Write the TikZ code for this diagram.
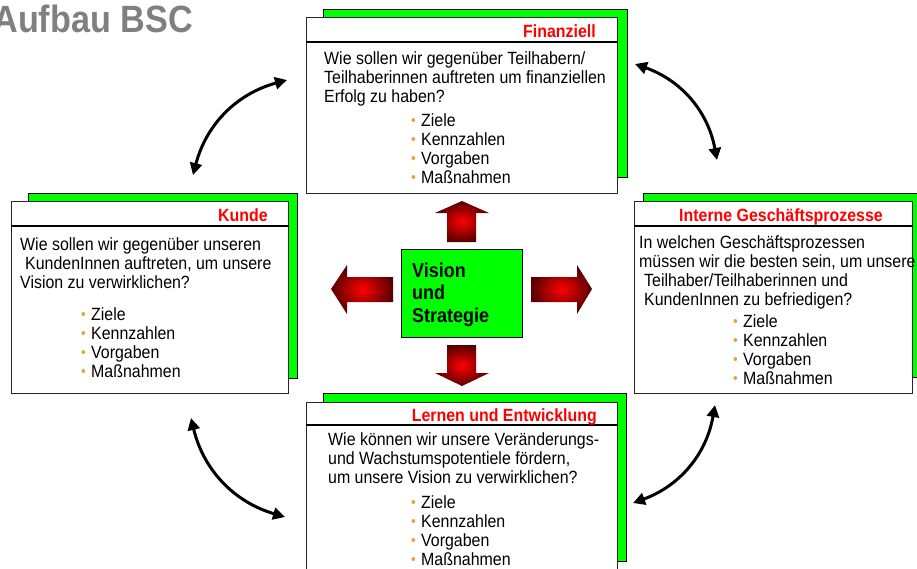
\documentclass[tikz,border=0pt]{standalone}
\usepackage{fontspec}
\setmainfont{Liberation Sans}[FakeStretch=0.9]
\usetikzlibrary{arrows.meta}
\definecolor{bsgreen}{HTML}{00FF00}
\definecolor{bulc}{HTML}{E9A332}
\definecolor{titlegray}{HTML}{808080}
\definecolor{darkr}{HTML}{580000}
\newcommand\bul{\makebox[10pt][l]{\textcolor{bulc}{\fontsize{15}{15}\selectfont\raisebox{0.5pt}{•}}}}
\begin{document}
\begin{tikzpicture}[x=1pt,y=-1pt,
  txt/.style={anchor=base west,inner sep=0pt,font=\fontsize{17.7}{19}\selectfont},
  head/.style={anchor=base east,inner sep=0pt,font=\fontsize{17.7}{19}\selectfont\bfseries,text=red},
  ctr/.style={anchor=base west,inner sep=0pt,font=\fontsize{20}{22}\selectfont\bfseries},
  shadowbox/.style={fill=bsgreen,draw=black,line width=0.8pt,anchor=north west,inner sep=0pt},
  mainbox/.style={fill=white,draw=black!85,line width=0.8pt,anchor=north west,inner sep=0pt},
  headline/.style={line width=1.6pt},
  redarrow/.style={inner color=red,outer color=darkr},
  cycarrow/.style={line width=3pt,{Triangle[length=12pt,width=12pt]}-{Triangle[length=12pt,width=12pt]}}
]
\useasboundingbox (0,0) rectangle (917,568);
\clip (0,0) rectangle (917,568);

% title
\node[anchor=base east,inner sep=0pt,text=titlegray,font=\fontsize{38}{42}\selectfont\bfseries] (title) at (193,32) {Aufbau BSC};

% ---------- top box: Finanziell
\node[shadowbox,minimum width=304pt,minimum height=168pt] (fin-sh) at (323,9) {};
\node[mainbox,minimum width=311pt,minimum height=176pt] (fin) at (306,17) {};
\coordinate (fin-h) at (0,42);
\draw[headline] (fin.west|-fin-h) -- (fin.east|-fin-h);
\node[head] (fin-t) at (596,37) {Finanziell};
\foreach \t [count=\i] in {{Wie sollen wir gegenüber Teilhabern/},{Teilhaberinnen auftreten um finanziellen},{Erfolg zu haben?}}
  \node[txt] (fin-q\i) at (324,{64+19*(\i-1)}) {\t};
\foreach \t [count=\i] in {Ziele,Kennzahlen,Vorgaben,Maßnahmen}
  \node[txt] (fin-b\i) at (411,{126+19*(\i-1)}) {\bul\t};

% ---------- left box: Kunde
\node[shadowbox,minimum width=269pt,minimum height=185pt] (kun-sh) at (28,193) {};
\node[mainbox,minimum width=277pt,minimum height=192pt] (kun) at (11,201) {};
\coordinate (kun-h) at (0,226);
\draw[headline] (kun.west|-kun-h) -- (kun.east|-kun-h);
\node[head] (kun-t) at (268,221) {Kunde};
\node[txt] (kun-q1) at (20,250) {Wie sollen wir gegenüber unseren};
\node[txt] (kun-q2) at (25,269) {KundenInnen auftreten, um unsere};
\node[txt] (kun-q3) at (20,288) {Vision zu verwirklichen?};
\foreach \t [count=\i] in {Ziele,Kennzahlen,Vorgaben,Maßnahmen}
  \node[txt] (kun-b\i) at (81,{320+19*(\i-1)}) {\bul\t};

% ---------- right box: Interne Geschaeftsprozesse
\node[shadowbox,minimum width=280pt,minimum height=184pt] (int-sh) at (643,193) {};
\node[mainbox,minimum width=278pt,minimum height=192pt] (int) at (634,201) {};
\coordinate (int-h) at (0,226);
\draw[headline] (int.west|-int-h) -- (int.east|-int-h);
\node[head] (int-t) at (883,221) {Interne Geschäftsprozesse};
\node[txt] (int-q1) at (639,248) {In welchen Geschäftsprozessen};
\node[txt] (int-q2) at (639,267) {müssen wir die besten sein, um unsere};
\node[txt] (int-q3) at (644,286) {Teilhaber/Teilhaberinnen und};
\node[txt] (int-q4) at (644,305) {KundenInnen zu befriedigen?};
\foreach \t [count=\i] in {Ziele,Kennzahlen,Vorgaben,Maßnahmen}
  \node[txt] (int-b\i) at (733,{327+19*(\i-1)}) {\bul\t};

% ---------- bottom box: Lernen und Entwicklung
\node[shadowbox,minimum width=303pt,minimum height=168pt] (ler-sh) at (323,393) {};
\node[mainbox,minimum width=311pt,minimum height=190pt] (ler) at (306,402) {};
\coordinate (ler-h) at (0,425);
\draw[headline] (ler.west|-ler-h) -- (ler.east|-ler-h);
\node[head] (ler-t) at (597,421) {Lernen und Entwicklung};
\foreach \t [count=\i] in {{Wie können wir unsere Veränderungs-},{und Wachstumspotentiele fördern,},{um unsere Vision zu verwirklichen?}}
  \node[txt] (ler-q\i) at (328,{445+19*(\i-1)}) {\t};
\foreach \t [count=\i] in {Ziele,Kennzahlen,Vorgaben,Maßnahmen}
  \node[txt] (ler-b\i) at (411,{508+19*(\i-1)}) {\bul\t};

% ---------- centre
\node[fill=bsgreen,draw=black,line width=0.8pt,anchor=north west,inner sep=0pt,minimum width=121pt,minimum height=88pt] (vis) at (401,249) {};
\node[ctr] (vis1) at (412,277) {Vision};
\node[ctr] (vis2) at (412,299) {und};
\node[ctr] (vis3) at (412,322) {Strategie};

% red block arrows
\shade[redarrow] (447,242) -- (447,213) -- (435,213) -- (462,201) -- (489,213) -- (476,213) -- (476,242) -- cycle;
\shade[redarrow] (447,345) -- (476,345) -- (476,373) -- (489,373) -- (462,386) -- (435,373) -- (447,373) -- cycle;
\shade[redarrow] (393,277) -- (347,277) -- (347,265) -- (331,289) -- (347,314) -- (347,302) -- (393,302) -- cycle;
\shade[redarrow] (531,277) -- (577,277) -- (577,265) -- (592,289) -- (577,314) -- (577,302) -- (531,302) -- cycle;

% curved double arrows
\coordinate (a1s) at (193,175); \coordinate (a1e) at (287,80);
\coordinate (a2s) at (635,64);  \coordinate (a2e) at (717,160);
\coordinate (a3s) at (715,405); \coordinate (a3e) at (633,503);
\coordinate (a4s) at (191,418); \coordinate (a4e) at (285,517);
\draw[cycarrow] (a1s) to[bend left=30] (a1e);
\draw[cycarrow] (a2s) to[bend left=30] (a2e);
\draw[cycarrow] (a3s) to[bend left=30] (a3e);
\draw[cycarrow] (a4s) to[bend right=30] (a4e);
\end{tikzpicture}
\end{document}
